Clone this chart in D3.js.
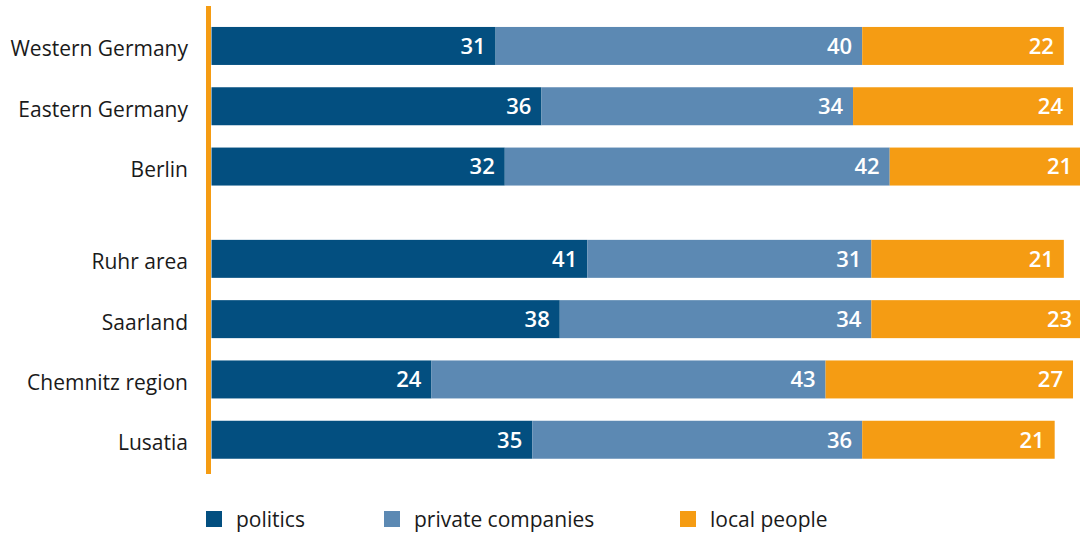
<!DOCTYPE html>
<html>
<head>
<meta charset="utf-8">
<script src="https://cdn.jsdelivr.net/npm/d3@7"></script>
<style>
  html, body { margin: 0; padding: 0; background: #fff; }
  svg { display: block; font-family: "Open Sans", sans-serif; }
</style>
</head>
<body>
<svg id="chart" width="1080" height="533"></svg>
<script>
// Regions and their group (national comparison vs. coal regions)
const categories = ["Western Germany", "Eastern Germany", "Berlin", "Ruhr area", "Saarland", "Chemnitz region", "Lusatia"];
const groups = [0, 0, 0, 1, 1, 1, 1];

// Shares (%) attributed to each actor
const politics = [31, 36, 32, 41, 38, 24, 35];
const privateCompanies = [40, 34, 42, 31, 34, 43, 36];
const localPeople = [22, 24, 21, 21, 23, 27, 21];

const seriesNames = ["politics", "private companies", "local people"];
const seriesKeys = ["politics", "privateCompanies", "localPeople"];
const colors = ["#034f80", "#5c89b3", "#f59c13"];

const rows = categories.map((c, i) => ({
  category: c,
  group: groups[i],
  politics: politics[i],
  privateCompanies: privateCompanies[i],
  localPeople: localPeople[i]
}));

const svg = d3.select("#chart");

const x = d3.scaleLinear().domain([0, 100]).range([211.5, 1128]);

const step = 60.3;
const y = d3.scaleBand()
  .domain(categories)
  .range([15.8, 15.8 + step * categories.length])
  .paddingInner(0.37)
  .paddingOuter(0.185);
const groupGap = 32;
const yPos = d => y(d.category) + d.group * groupGap;

const stack = d3.stack().keys(seriesKeys);
const stacked = stack(rows);

const layers = svg.append("g")
  .selectAll("g")
  .data(stacked)
  .join("g")
  .attr("fill", (d, i) => colors[i]);

layers.selectAll("rect")
  .data(d => d)
  .join("rect")
  .attr("x", d => x(d[0]))
  .attr("width", d => x(d[1]) - x(d[0]))
  .attr("y", d => yPos(d.data))
  .attr("height", y.bandwidth());

// Value labels, right-aligned inside each segment
layers.selectAll("text")
  .data(d => d.map(v => ({ v, value: v[1] - v[0] })))
  .join("text")
  .attr("x", d => x(d.v[1]) - 10)
  .attr("y", d => yPos(d.v.data) + y.bandwidth() / 2)
  .attr("dy", "0.36em")
  .attr("text-anchor", "end")
  .attr("fill", "#fff")
  .attr("font-size", 22)
  .attr("font-weight", 600)
  .text(d => d.value);

// Category labels
svg.append("g")
  .selectAll("text")
  .data(rows)
  .join("text")
  .attr("x", 188)
  .attr("y", d => yPos(d) + y.bandwidth() / 2)
  .attr("dy", "0.5em")
  .attr("text-anchor", "end")
  .attr("fill", "#1a1a1a")
  .attr("font-size", 21)
  .text(d => d.category);

// Baseline axis
svg.append("line")
  .attr("x1", 208.5).attr("x2", 208.5)
  .attr("y1", 6).attr("y2", 474)
  .attr("stroke", "#f59c13")
  .attr("stroke-width", 5);

// Legend
const legendX = [206, 384, 680];
const legend = svg.append("g")
  .selectAll("g")
  .data(seriesNames)
  .join("g")
  .attr("transform", (d, i) => `translate(${legendX[i]},511)`);

legend.append("rect")
  .attr("width", 16).attr("height", 16)
  .attr("fill", (d, i) => colors[i]);

legend.append("text")
  .attr("x", 30)
  .attr("y", 8)
  .attr("dy", "0.38em")
  .attr("fill", "#1a1a1a")
  .attr("font-size", 21)
  .text(d => d);
</script>
</body>
</html>
